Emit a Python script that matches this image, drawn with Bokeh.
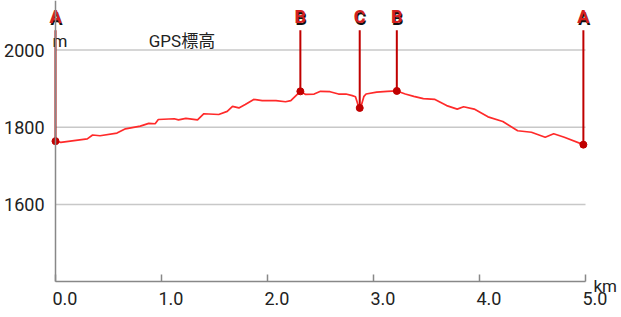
from bokeh.plotting import figure
from bokeh.models import Range1d, FixedTicker
from bokeh.core.properties import value
from bokeh.embed import file_html
from bokeh.resources import INLINE

# ---- data ----
dist_km = [0.00, 0.05, 0.30, 0.35, 0.42, 0.58, 0.66, 0.80, 0.88, 0.94, 0.97, 1.12, 1.16, 1.23,
           1.34, 1.40, 1.54, 1.62, 1.67, 1.73, 1.79, 1.87, 1.95, 2.08, 2.17, 2.22, 2.31, 2.36,
           2.44, 2.50, 2.59, 2.67, 2.74, 2.80, 2.83, 2.845, 2.86, 2.87, 2.88, 2.895, 2.91,
           2.93, 3.03, 3.13, 3.22, 3.30, 3.38, 3.47, 3.58, 3.69, 3.79, 3.85, 3.95, 4.08, 4.22,
           4.36, 4.49, 4.62, 4.70, 4.80, 4.98]
elev_m = [1764, 1761, 1770, 1780, 1778, 1785, 1796, 1803, 1810, 1809, 1820, 1822, 1819, 1823,
          1819, 1835, 1833, 1841, 1854, 1850, 1859, 1872, 1869, 1869, 1866, 1869, 1893, 1885,
          1886, 1893, 1892, 1886, 1886, 1882, 1879, 1866, 1852, 1850, 1852, 1866, 1880,
          1886, 1891, 1893, 1894, 1886, 1880, 1874, 1872, 1856, 1847, 1853, 1847, 1827, 1815,
          1791, 1787, 1774, 1783, 1774, 1755]

marker_labels = ["A", "B", "C", "B", "A"]
marker_km = [0.00, 2.31, 2.87, 3.22, 4.98]
marker_elev = [1764, 1893, 1850, 1894, 1755]

x_ticks = [0, 1, 2, 3, 4, 5]
x_tick_labels = ["0.0", "1.0", "2.0", "3.0", "4.0", "5.0"]
y_ticks = [1600, 1800, 2000]
x_start, x_end = 0.0, 5.0
y_base = 1400

FONT = "Roboto, Noto Sans CJK JP"
TXT = "#222222"

# pixel geometry: frame spans whole canvas
W, H = 621, 317
px_left, px_right = 55.0, 585.0          # x = 0 km and x = 5 km
px_per_km = (px_right - px_left) / (x_end - x_start)
px_base = 281.25                          # y = 1400 m
px_per_m = 0.38625
xr = Range1d(x_start - px_left / px_per_km, x_end + (W - px_right) / px_per_km)
yr = Range1d(y_base - (H - px_base) / px_per_m, y_base + px_base / px_per_m)

p = figure(width=W, height=H, output_backend="svg", toolbar_location=None,
           x_range=xr, y_range=yr,
           min_border_left=0, min_border_right=0, min_border_top=0, min_border_bottom=0)
p.outline_line_color = None
p.background_fill_color = "white"
p.border_fill_color = "white"
p.xgrid.visible = False
p.ygrid.visible = False

# horizontal grid lines between the axis ends
n = len(y_ticks)
p.segment(x0=[x_start] * n, x1=[x_end] * n, y0=y_ticks, y1=y_ticks,
          line_color="#c8c8c8", line_width=1.5)

# x axis (fixed at the base elevation); labels are drawn left-aligned below
xa = p.xaxis[0]
xa.fixed_location = y_base
xa.bounds = (x_start, x_end)
xa.ticker = FixedTicker(ticks=x_ticks)
xa.axis_line_color = "#888888"
xa.axis_line_width = 1.5
xa.major_tick_line_color = "#888888"
xa.major_tick_line_width = 1.5
xa.major_tick_in = 7
xa.major_tick_out = 0
xa.minor_tick_line_color = None
xa.major_label_overrides = {t: "" for t in x_ticks}

# y axis (fixed at 0 km)
ya = p.yaxis[0]
ya.fixed_location = x_start
ya.bounds = (y_base, yr.end)
ya.ticker = FixedTicker(ticks=y_ticks)
ya.axis_line_color = "#888888"
ya.axis_line_width = 1.5
ya.major_tick_in = 0
ya.major_tick_out = 0
ya.minor_tick_line_color = None
ya.major_label_standoff = 11
ya.major_label_text_font = FONT
ya.major_label_text_font_size = "18px"
ya.major_label_text_color = TXT

# x tick labels, left-aligned at the ticks
p.text(x_ticks, [y_base] * len(x_ticks), text=x_tick_labels, x_offset=-3, y_offset=17,
       text_align="left", text_baseline="middle", text_font=value(FONT),
       text_font_size="18px", text_color=TXT)

# profile line
p.line(dist_km, elev_m, line_color="#ff2a2a", line_width=1.7)

# marker stems, dots, letters
stem_top = [2051] * len(marker_km)
p.segment(x0=marker_km, y0=marker_elev, x1=marker_km, y1=stem_top,
          line_color="#c00000", line_width=2)
p.scatter(marker_km, marker_elev, size=7, fill_color="#c00000", line_color="#c00000")
letter_y = [2087] * len(marker_km)
p.text(marker_km, letter_y, text=marker_labels, x_offset=1, y_offset=2,
       text_align="center", text_baseline="middle", text_font=value(FONT),
       text_font_size="18px", text_font_style="bold", text_color="#111111")
p.text(marker_km, letter_y, text=marker_labels,
       text_align="center", text_baseline="middle", text_font=value(FONT),
       text_font_size="18px", text_font_style="bold", text_color="#d42020")

# unit labels and title
p.text([x_start], [2024], text=["m"], x_offset=-3, text_align="left", text_baseline="middle",
       text_font=value(FONT), text_font_size="17px", text_color=TXT)
p.text([0.88], [2024], text=["GPS標高"], text_align="left", text_baseline="middle",
       text_font=value(FONT), text_font_size="17px", text_color=TXT)
p.text([x_end], [y_base], text=["km"], x_offset=8, y_offset=4, text_align="left",
       text_baseline="alphabetic", text_font=value(FONT), text_font_size="17px",
       text_color=TXT)

open("out.html", "w").write(file_html(p, INLINE))
